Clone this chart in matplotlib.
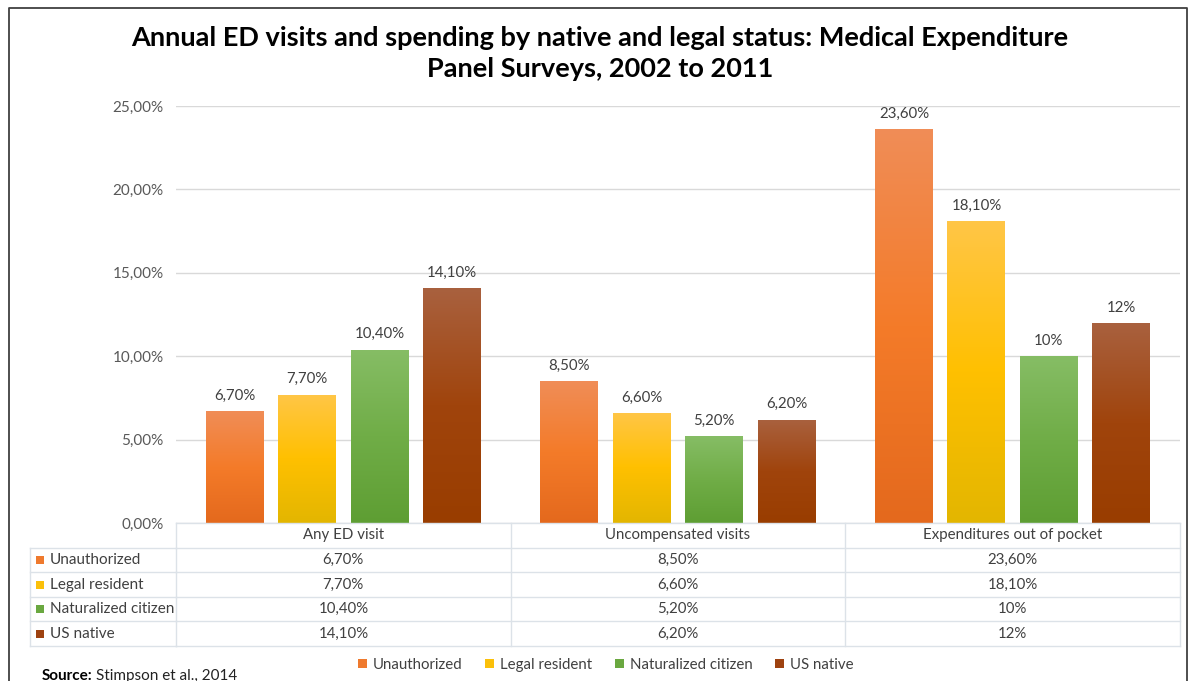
import matplotlib
matplotlib.use("Agg")
import matplotlib.pyplot as plt
import numpy as np
from matplotlib.colors import LinearSegmentedColormap
from matplotlib.patches import Patch, Rectangle
from matplotlib.lines import Line2D
from matplotlib.transforms import blended_transform_factory

# ---------------- data ----------------
categories = ["Any ED visit", "Uncompensated visits", "Expenditures out of pocket"]
series_names = ["Unauthorized", "Legal resident", "Naturalized citizen", "US native"]
unauthorized = [0.067, 0.085, 0.236]
legal_resident = [0.077, 0.066, 0.181]
naturalized_citizen = [0.104, 0.052, 0.100]
us_native = [0.141, 0.062, 0.120]
unauthorized_labels = ["6,70%", "8,50%", "23,60%"]
legal_resident_labels = ["7,70%", "6,60%", "18,10%"]
naturalized_citizen_labels = ["10,40%", "5,20%", "10%"]
us_native_labels = ["14,10%", "6,20%", "12%"]
y_ticks = [0.0, 0.05, 0.10, 0.15, 0.20, 0.25]
y_tick_labels = ["0,00%", "5,00%", "10,00%", "15,00%", "20,00%", "25,00%"]
title = "Annual ED visits and spending by native and legal status: Medical Expenditure\nPanel Surveys, 2002 to 2011"

values = [unauthorized, legal_resident, naturalized_citizen, us_native]
labels = [unauthorized_labels, legal_resident_labels, naturalized_citizen_labels, us_native_labels]

# gradient colours (top, middle, bottom) and solid legend colours
grad = [
    ("#F08D57", "#F47B29", "#E4691D"),
    ("#FFC647", "#FFC000", "#E3B600"),
    ("#86BD65", "#70AD47", "#5E9E33"),
    ("#A9613F", "#A0440C", "#993D00"),
]
solid = ["#EF7A2E", "#FBC00A", "#6AA840", "#9E4210"]

plt.rcParams['font.family'] = ['Lato', 'DejaVu Sans']

W, H = 1197, 681
fig = plt.figure(figsize=(W / 100, H / 100), dpi=100)
fig.patch.set_facecolor("white")

def fx(px):
    return px / W

def fy(py):
    return 1 - py / H

left_px, right_px, top_px, bot_px = 176, 1180, 106, 523
ax = fig.add_axes([fx(left_px), fy(bot_px), fx(right_px - left_px), (bot_px - top_px) / H])
ax.set_xlim(-0.5, 2.5)
ax.set_ylim(0, 0.25)

x = np.arange(len(categories))
bw = 0.173
step = 0.2165
offsets = [-1.5 * step, -0.5 * step, 0.5 * step, 1.5 * step]

for i in range(4):
    cmap = LinearSegmentedColormap.from_list("g%d" % i, [grad[i][2], grad[i][1], grad[i][0]])
    bars = ax.bar(x + offsets[i], values[i], width=bw, color=solid[i], zorder=3,
                  edgecolor="none")
    for b in bars:
        x0, w, h = b.get_x(), b.get_width(), b.get_height()
        g = np.linspace(0, 1, 256).reshape(-1, 1)
        im = ax.imshow(g, cmap=cmap, aspect="auto", origin="lower",
                       extent=[x0, x0 + w, 0, h], zorder=4, interpolation="bilinear")
        im.set_clip_path(b)
    ax.bar_label(bars, labels=labels[i], padding=6, fontsize=10.8, color="#404040")

ax.set_xlim(-0.5, 2.5)
ax.set_ylim(0, 0.25)
ax.set_yticks(y_ticks)
ax.set_yticklabels(y_tick_labels, fontsize=11, color="#595959")
ax.tick_params(axis="y", length=0, pad=9)
ax.set_xticks([])
ax.grid(axis="y", color="#D9D9D9", linewidth=1, zorder=0)
for s in ax.spines.values():
    s.set_visible(False)

# ---------------- data table ----------------
tr = blended_transform_factory(ax.transData, fig.transFigure)
line_col = "#DCE2E8"
row_lines_px = [523, 548, 572, 597, 621, 646]
for k, py in enumerate(row_lines_px):
    fig.add_artist(Line2D([fx(left_px), fx(right_px)], [fy(py), fy(py)], color=line_col, lw=1))
    if k >= 1:
        fig.add_artist(Line2D([fx(30), fx(left_px)], [fy(py), fy(py)], color=line_col, lw=1))
for xv in [-0.5, 0.5, 1.5, 2.5]:
    fig.add_artist(Line2D([xv, xv], [fy(523), fy(646)], color=line_col, lw=1, transform=tr))
fig.add_artist(Line2D([fx(30), fx(30)], [fy(548), fy(646)], color=line_col, lw=1))

for j, c in enumerate(categories):
    fig.text(x[j], fy(535.5), c, transform=tr, ha="center", va="center", fontsize=10.8, color="#404040")
for i in range(4):
    yc = fy((row_lines_px[i + 1] + row_lines_px[i + 2]) / 2)
    fig.add_artist(Rectangle((fx(36), yc - 4 / H), 8 / W, 8 / H, transform=fig.transFigure,
                             facecolor=solid[i], edgecolor="none"))
    fig.text(fx(50), yc, series_names[i], ha="left", va="center", fontsize=11, color="#404040")
    for j in range(3):
        fig.text(x[j], yc, labels[i][j], transform=tr, ha="center", va="center",
                 fontsize=10.8, color="#404040")

# ---------------- legend ----------------
handles = [Patch(facecolor=solid[i], edgecolor="none", label=series_names[i]) for i in range(4)]
fig.legend(handles=handles, loc="center", bbox_to_anchor=(fx(606), fy(665)), ncol=4,
           frameon=False, fontsize=10.8, handlelength=0.6, handleheight=0.6,
           handletextpad=0.4, columnspacing=1.5, labelcolor="#404040")

# ---------------- title & source ----------------
fig.text(fx(600), fy(53.5), title, ha="center", va="center", fontsize=19.5,
         fontweight="bold", color="#000000", linespacing=1.38)
fig.text(fx(42), fy(676), "Source:", ha="left", va="center", fontsize=11, fontweight="bold", color="#000000")
fig.text(fx(96), fy(676), "Stimpson et al., 2014", ha="left", va="center", fontsize=11, color="#222222")

fig.add_artist(Line2D([fx(8.5), fx(8.5), fx(1186.5), fx(1186.5)],
                      [0, fy(7.5), fy(7.5), 0], color="#404040", lw=1.3))

fig.savefig("out.png", dpi=100)
